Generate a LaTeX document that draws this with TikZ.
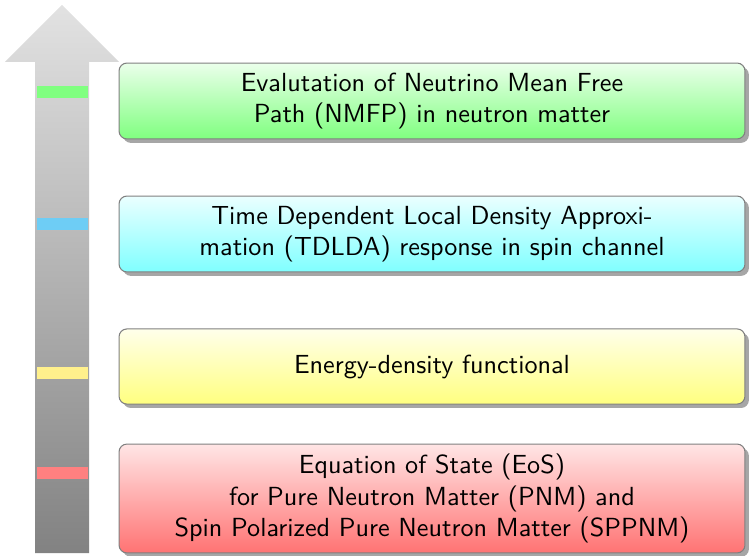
\documentclass[tikz,border=0pt]{standalone}
\usetikzlibrary{shadows}
\definecolor{bandgreen}{RGB}{128,255,128}
\definecolor{bandcyan}{RGB}{110,205,245}
\definecolor{bandyellow}{RGB}{255,240,140}
\definecolor{bandred}{RGB}{255,128,128}
\definecolor{arrowtop}{RGB}{226,226,226}
\definecolor{arrowbot}{RGB}{130,130,130}
\begin{document}
\begin{tikzpicture}[x=0.382pt,y=0.382pt,font=\sffamily,
    stage/.style={draw=black!50,rounded corners=3pt,minimum width=239.1pt,
      minimum height=29pt,align=center,
      drop shadow={shadow xshift=1.5pt,shadow yshift=-1.5pt,fill=black!35,opacity=1}}]
    \useasboundingbox (0,0) rectangle (751,555);
    % the arrow
    \path[top color=arrowtop,bottom color=arrowbot]
      (35,2)--(35,493)--(5,493)--(62,550)--(119,493)--(89,493)--(89,2)--cycle;
    \foreach \y/\c in {457/bandgreen,325/bandcyan,176/bandyellow,76/bandred} {
      \fill[\c] (37,\y) rectangle (88,\y+12);
    };
    % the stages
    \node[stage,top color=green!8,bottom color=green!50] (nmfp) at (432,454)
      {Evalutation of Neutrino Mean Free\\Path (NMFP) in neutron matter};
    \node[stage,top color=cyan!8,bottom color=cyan!50] (tdlda) at (432,321)
      {Time Dependent Local Density Approxi-\\mation (TDLDA) response in spin channel};
    \node[stage,top color=yellow!8,bottom color=yellow!50,minimum height=28.7pt] (edf) at (432,188.5)
      {Energy-density functional};
    \node[stage,top color=red!10,bottom color=red!55,minimum height=41.6pt] (eos) at (432,56.5)
      {Equation of State (EoS)\\for Pure Neutron Matter (PNM) and\\Spin Polarized Pure Neutron Matter (SPPNM)};
%    \node at (432,10) {};
  \end{tikzpicture}
\end{document}
